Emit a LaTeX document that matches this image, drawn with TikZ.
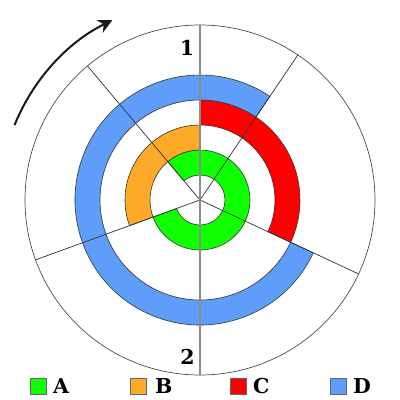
\documentclass[tikz,border=0pt]{standalone}
\usepackage{fontspec}
\newfontfamily\heavyfont{DejaVu Serif}
\usetikzlibrary{arrows.meta}
\definecolor{cA}{HTML}{10FF00}
\definecolor{cB}{HTML}{FDAA28}
\definecolor{cC}{HTML}{FF0000}
\definecolor{cD}{HTML}{5E9EFA}
\definecolor{edge}{HTML}{333333}
\newcommand\annsec[6]{%
  \path[ringline, fill=#2] (#5:#3pt) arc[start angle=#5, end angle=#6, radius=#3pt]
    -- (#6:#4pt) arc[start angle=#6, end angle=#5, radius=#4pt] -- cycle;}
\begin{document}
\begin{tikzpicture}[x=1pt,y=1pt,
  ringline/.style={draw=edge, line width=0.6pt},
  spoke/.style={draw=edge, line width=0.7pt},
  axisline/.style={draw=black!45, line width=1.8pt},
  outer/.style={draw=black!70, line width=0.7pt},
  turnarrow/.style={draw=black!90, line width=2pt, -{Stealth[length=14pt,width=14pt,inset=4.5pt]}},
  numlabel/.style={font=\heavyfont\fontsize{20.5}{20.5}\selectfont\bfseries, inner sep=0pt},
  legbox/.style={draw=black!60, line width=0.8pt, minimum size=16pt, inner sep=0pt},
  legtext/.style={font=\heavyfont\fontsize{20.5}{20.5}\selectfont\bfseries, inner sep=0pt, anchor=base west}]
\useasboundingbox (-200,-200) rectangle (200,200);
\coordinate (O) at (0,0);
\draw[outer] (O) circle[radius=175pt];
% coloured ring segments
\annsec{A}{cA}{25}{50}{-160}{130}
\annsec{B}{cB}{50}{75}{90}{200}
\annsec{C}{cC}{75}{100}{-25}{90}
\annsec{D}{cD}{100}{125}{56}{335}
% spokes
\coordinate (s1) at (56:175pt);
\coordinate (s2) at (-25:175pt);
\coordinate (s3) at (200:175pt);
\coordinate (s4) at (130:175pt);
\coordinate (top) at (90:175pt);
\coordinate (bot) at (-90:175pt);
\draw[spoke] (O) -- (s1);
\draw[spoke] (O) -- (s2);
\draw[spoke] (O) -- (s3);
\draw[spoke] (O) -- (s4);
\draw[axisline] (top) -- (bot);
% labels
\node[numlabel] (n1) at (-13,152.5) {1};
\node[numlabel] (n2) at (-12.5,-156.5) {2};
% rotation arrow
\draw[turnarrow] (158:200pt) arc[start angle=158, end angle=116, radius=200pt];
% legend
\node[legbox, fill=cA] (kA) at (-162,-186) {};
\node[legbox, fill=cB] (kB) at (-62,-186) {};
\node[legbox, fill=cC] (kC) at (38,-186) {};
\node[legbox, fill=cD] (kD) at (138,-186) {};
\node[legtext] (tA) at (-147,-193) {A};
\node[legtext] (tB) at (-45,-193) {B};
\node[legtext] (tC) at (53,-193) {C};
\node[legtext] (tD) at (153,-193) {D};
\end{tikzpicture}
\end{document}
